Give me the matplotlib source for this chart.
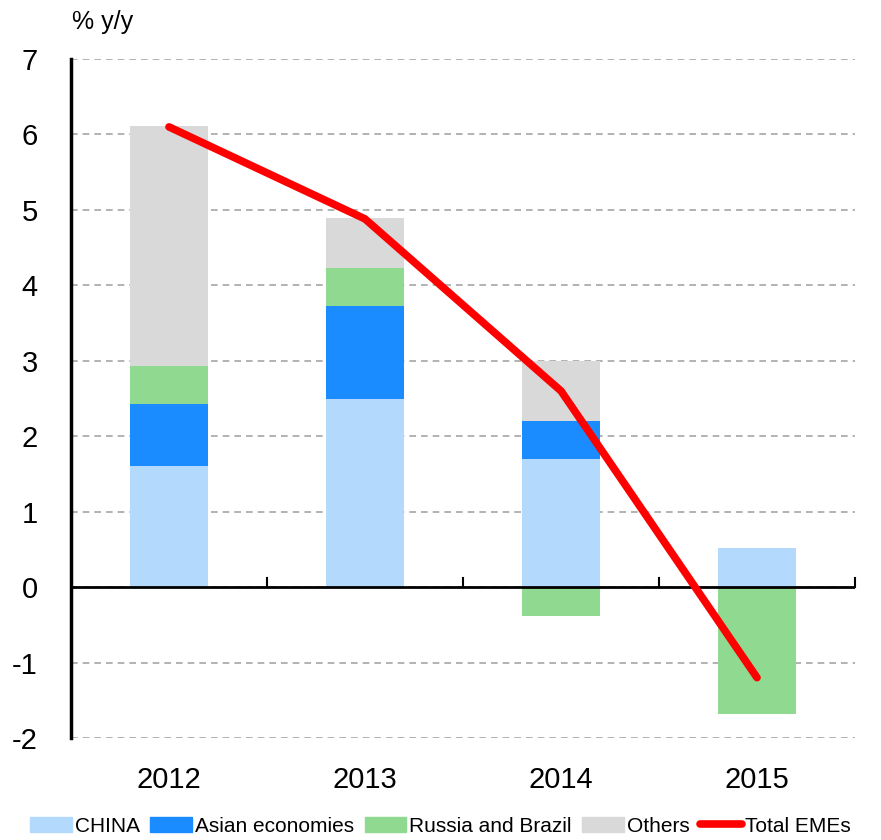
import matplotlib.pyplot as plt
import numpy as np
from matplotlib.patches import Patch
from matplotlib.lines import Line2D

plt.rcParams['font.family'] = ['Liberation Sans', 'DejaVu Sans']
plt.rcParams['axes.unicode_minus'] = False

years = ['2012', '2013', '2014', '2015']
china = [1.6, 2.5, 1.7, 0.52]
asian = [0.83, 1.22, 0.5, 0.0]
russia_brazil = [0.5, 0.51, -0.38, -1.68]
others = [3.18, 0.66, 0.8, 0.0]
total = [6.1, 4.88, 2.6, -1.2]

c_china = '#b3d9fc'
c_asian = '#1a8cff'
c_rb = '#90d990'
c_oth = '#d9d9d9'

x = np.arange(len(years))
w = 0.4

fig = plt.figure(figsize=(8.81, 8.4), dpi=100)
ax = fig.add_axes([71/881, 1-738/840, (855-71)/881, (738-59)/840])

# stack positives upward, negatives downward
pos = np.zeros(len(x))
neg = np.zeros(len(x))
for vals, col in [(china, c_china), (asian, c_asian), (russia_brazil, c_rb), (others, c_oth)]:
    vals = np.array(vals)
    bottoms = np.where(vals >= 0, pos, neg)
    ax.bar(x, vals, w, bottom=bottoms, color=col, zorder=2)
    pos = pos + np.where(vals > 0, vals, 0)
    neg = neg + np.where(vals < 0, vals, 0)

ax.plot(x, total, color='#ff0000', lw=5.5, solid_capstyle='round',
        solid_joinstyle='miter', zorder=4)

ax.set_xlim(-0.5, 3.5)
ax.set_ylim(-2, 7)
ax.set_yticks(range(-2, 8))
ax.yaxis.grid(True, ls=(0, (4, 3)), color='#a6a6a6', lw=1.2, zorder=0)
ax.tick_params(axis='y', length=0, labelsize=21, pad=24)

for s in ['top', 'right', 'bottom']:
    ax.spines[s].set_visible(False)
ax.spines['left'].set_linewidth(2.5)
ax.axhline(0, color='black', lw=2, zorder=3)

# category boundary ticks on the zero line
for b in [0.5, 1.5, 2.5, 3.5]:
    ax.plot([b, b], [0, 0.12], color='black', lw=1.5, zorder=3, clip_on=False)

ax.set_xticks(x)
ax.set_xticklabels(years)
ax.tick_params(axis='x', length=0, labelsize=21, pad=20)

fig.text(72/881, 1-22/840, '% y/y', fontsize=18, ha='left', va='center')

handles = [Patch(color=c_china), Patch(color=c_asian), Patch(color=c_rb),
           Patch(color=c_oth),
           Line2D([0], [0], color='#ff0000', lw=5.5, solid_capstyle='round')]
labels = ['CHINA', 'Asian economies', 'Russia and Brazil', 'Others', 'Total EMEs']
fig.legend(handles, labels, loc='center', bbox_to_anchor=(0.5, 1-826/840),
           ncol=5, frameon=False, handlelength=2.0, handleheight=0.7,
           handletextpad=0.15, columnspacing=0.5, fontsize=15)

fig.savefig('out.png', dpi=100)
